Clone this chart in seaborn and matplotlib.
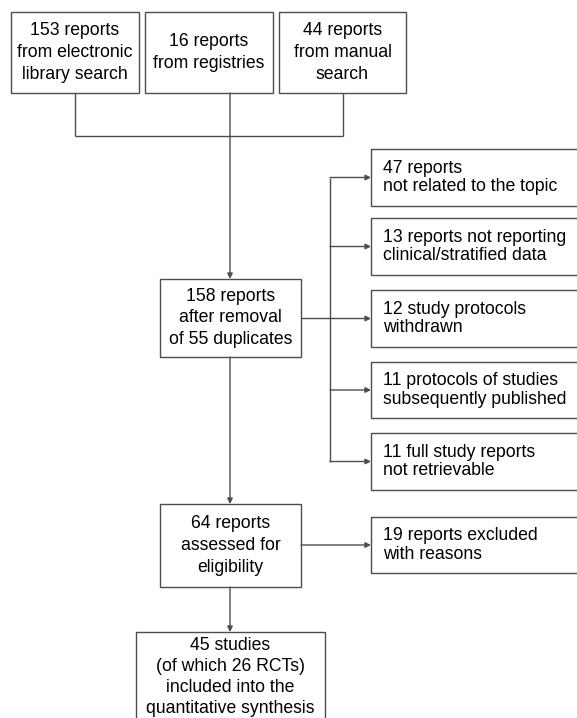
"""
PRISMA-style flow diagram of report selection.
"""
import matplotlib
matplotlib.use("Agg")
import matplotlib.pyplot as plt
import matplotlib.patches as mpatches
import seaborn as sns

# Box texts
source_labels = [
    "153 reports\nfrom electronic\nlibrary search",
    "16 reports\nfrom registries",
    "44 reports\nfrom manual\nsearch",
]
merged_label = "158 reports\nafter removal\nof 55 duplicates"
excluded_labels = [
    "47 reports\nnot related to the topic",
    "13 reports not reporting\nclinical/stratified data",
    "12 study protocols\nwithdrawn",
    "11 protocols of studies\nsubsequently published",
    "11 full study reports\nnot retrievable",
]
eligible_label = "64 reports\nassessed for\neligibility"
excluded_eligible_label = "19 reports excluded\nwith reasons"
included_label = "45 studies\n(of which 26 RCTs)\nincluded into the\nquantitative synthesis"

# Layout in pixel coordinates (x0, y0, x1, y1)
source_boxes = [(11, 12, 139, 93), (145, 12, 273, 93), (279, 12, 406, 93)]
merged_box = (160, 279, 301, 357)
excluded_boxes = [(371, 149, 600, 206), (371, 218, 600, 275), (371, 290, 600, 347),
                  (371, 362, 600, 418), (371, 433, 600, 490)]
eligible_box = (160, 504, 301, 587)
excluded_eligible_box = (371, 517, 600, 573)
included_box = (136, 632, 325, 740)

LINE = "#4d4d4d"
LW = 1.0
FONT = 12.7
LS_CENTER = 1.36
LS_LEFT = 1.15

sns.set_style("white")
plt.rcParams["font.family"] = ["Liberation Sans", "DejaVu Sans"]

fig = plt.figure(figsize=(5.77, 7.18), dpi=100)
ax = fig.add_axes([0, 0, 1, 1])
ax.set_xlim(0, 577)
ax.set_ylim(718, 0)
ax.axis("off")


def draw_box(box, text, align="center", pad=12, text_y=None, ls=None):
    x0, y0, x1, y1 = box
    ax.add_patch(mpatches.Rectangle((x0, y0), x1 - x0, y1 - y0, fill=False,
                                    edgecolor=LINE, lw=LW))
    ty = (y0 + y1) / 2 if text_y is None else text_y
    if align == "center":
        ax.text((x0 + x1) / 2, ty, text, ha="center", va="center",
                fontsize=FONT, linespacing=ls or LS_CENTER, color="black")
    else:
        ax.text(x0 + pad, ty, text, ha="left", va="center",
                fontsize=FONT, linespacing=ls or LS_LEFT, color="black")


def line(xs, ys):
    ax.plot(xs, ys, color=LINE, lw=LW, solid_capstyle="butt")


def arrow(x0, y0, x1, y1):
    ax.annotate("", xy=(x1, y1), xytext=(x0, y0),
                arrowprops=dict(arrowstyle="-|>", color=LINE, lw=LW,
                                mutation_scale=8, shrinkA=0, shrinkB=0))


for box, label in zip(source_boxes, source_labels):
    draw_box(box, label)
draw_box(merged_box, merged_label)
for box, label in zip(excluded_boxes, excluded_labels):
    draw_box(box, label, align="left")
draw_box(eligible_box, eligible_label)
draw_box(excluded_eligible_box, excluded_eligible_label, align="left")
# bottom box is cut off by the image edge, text sits near the top
draw_box(included_box, included_label, text_y=677, ls=1.32)

# merge of the three sources
join_y = 136
left_cx = (source_boxes[0][0] + source_boxes[0][2]) / 2
right_cx = (source_boxes[2][0] + source_boxes[2][2]) / 2
mid_cx = 230
line([left_cx, left_cx], [source_boxes[0][3], join_y])
line([right_cx, right_cx], [source_boxes[2][3], join_y])
line([left_cx, right_cx], [join_y, join_y])
arrow(mid_cx, source_boxes[1][3], mid_cx, merged_box[1])

# exclusions from merged reports
branch_x = 330
ex_mid = [(b[1] + b[3]) / 2 for b in excluded_boxes]
line([merged_box[2], branch_x], [318, 318])
line([branch_x, branch_x], [ex_mid[0], ex_mid[-1]])
for ym in ex_mid:
    arrow(branch_x, ym, excluded_boxes[0][0], ym)

# down to eligibility
arrow(mid_cx, merged_box[3], mid_cx, eligible_box[1])
arrow(eligible_box[2], 545, excluded_eligible_box[0], 545)
arrow(mid_cx, eligible_box[3], mid_cx, included_box[1])

fig.savefig("out.png", dpi=100)
